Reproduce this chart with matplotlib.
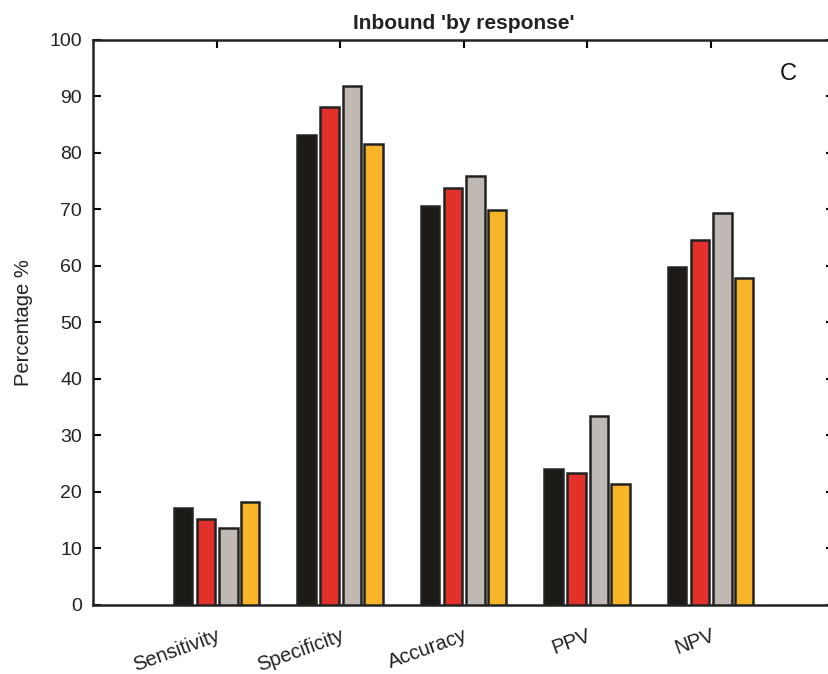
import numpy as np
import matplotlib
matplotlib.use("Agg")
import matplotlib.pyplot as plt

plt.rcParams['font.family'] = ['Liberation Sans', 'DejaVu Sans']

######################################################################
# DATA

categories = ['Sensitivity', 'Specificity', 'Accuracy', 'PPV', 'NPV']
series_black = [17.2, 83.1, 70.7, 24.0, 59.8]
series_red = [15.2, 88.2, 73.8, 23.3, 64.6]
series_gray = [13.6, 91.9, 75.9, 33.5, 69.3]
series_yellow = [18.2, 81.5, 69.9, 21.4, 57.9]
bar_colors = ['#1b1a16', '#e2302a', '#c0b8b3', '#f9b52a']
y_ticks = list(range(0, 101, 10))

######################################################################
# PLOT

fig = plt.figure(figsize=(8.29, 6.74), dpi=100)
ax = fig.add_axes([0.1122, 0.1024, 0.894, 0.8383])

pos = np.arange(1, len(categories) + 1)
offsets = [-0.272, -0.085, 0.095, 0.272]
width = 0.15
all_series = [series_black, series_red, series_gray, series_yellow]
for vals, off, col in zip(all_series, offsets, bar_colors):
    ax.bar(pos + off, vals, width=width, color=col,
           edgecolor='#222222', linewidth=1.8, zorder=3)

ax.set_xlim(0, 6)
ax.set_ylim(0, 100)
ax.set_yticks(y_ticks)
ax.set_xticks(pos)
ax.set_xticklabels(categories, rotation=20, ha='right',
                   rotation_mode='anchor', fontsize=14.5, color='#222222')

# ticks point inward, x-ticks only drawn on the top spine
ax.tick_params(axis='y', direction='in', length=6, width=1.5,
               right=True, labelsize=14, labelcolor='#222222', pad=8)
ax.tick_params(axis='x', direction='in', length=6, width=1.5,
               bottom=False, top=True, labelbottom=True, pad=15)

for sp in ax.spines.values():
    sp.set_linewidth(1.8)
    sp.set_color('#222222')

ax.set_ylabel('Percentage %', fontsize=14.5, color='#222222', labelpad=12)
ax.set_title("Inbound 'by response'", fontsize=15, fontweight='bold',
             color='#222222', pad=8)
ax.text(5.63, 94, 'C', fontsize=17, ha='center', va='center',
        color='#111111')

fig.savefig('out.png', dpi=100)
